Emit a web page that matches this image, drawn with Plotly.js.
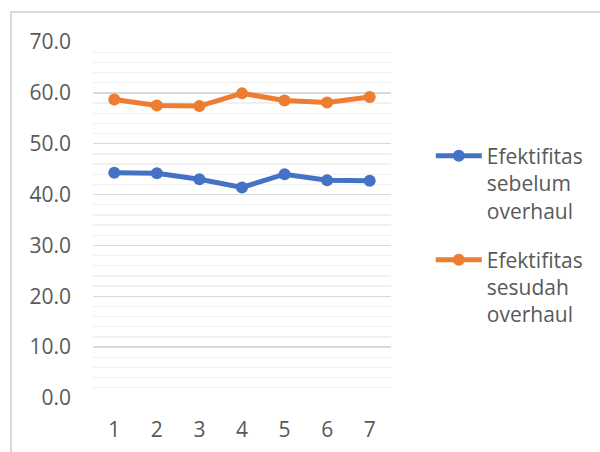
<!DOCTYPE html>
<html>
<head>
<meta charset="utf-8">
<script src="https://cdn.plot.ly/plotly-3.0.1.min.js"></script>
<style>
  html, body { margin: 0; padding: 0; background: #ffffff; }
  #wrap { position: relative; width: 600px; height: 452px; overflow: hidden; }
  #frame { position: absolute; left: 10px; top: 11px; width: 620px; height: 470px;
           border: 2px solid #d9d9d9; box-sizing: border-box; }
  #chart { position: absolute; left: 0; top: 0; width: 600px; height: 452px; }
</style>
</head>
<body>
<div id="wrap">
  <div id="frame"></div>
  <div id="chart"></div>
</div>
<script>
// Measurement points 1..7
const categories = [1, 2, 3, 4, 5, 6, 7];
// Efficiency before overhaul (%)
const sebelum = [44.3, 44.2, 43.0, 41.4, 44.0, 42.8, 42.7];
// Efficiency after overhaul (%)
const sesudah = [58.7, 57.5, 57.4, 59.9, 58.5, 58.1, 59.2];
const seriesNames = ['Efektifitas<br>sebelum<br>overhaul', 'Efektifitas<br>sesudah<br>overhaul'];
const yTickVals = [0, 10, 20, 30, 40, 50, 60, 70];
const yTickText = ['0.0', '10.0', '20.0', '30.0', '40.0', '50.0', '60.0', '70.0'];

const font = { family: 'Open Sans, sans-serif', size: 21, color: '#595959' };

const traces = [
  {
    x: categories, y: sebelum, name: seriesNames[0], legendgroup: 'a',
    type: 'scatter', mode: 'lines+markers',
    line: { color: '#4472C4', width: 5 },
    marker: { color: '#4472C4', size: 12 }
  },
  {
    x: categories, y: sesudah, name: seriesNames[1], legendgroup: 'b',
    type: 'scatter', mode: 'lines+markers',
    line: { color: '#ED7D31', width: 5 },
    marker: { color: '#ED7D31', size: 12 }
  }
];

const layout = {
  width: 600, height: 452,
  paper_bgcolor: 'rgba(0,0,0,0)', plot_bgcolor: 'rgba(0,0,0,0)',
  margin: { l: 93, r: 209, t: 42, b: 54 },
  font: font,
  showlegend: true,
  legend: {
    xref: 'container', yref: 'container',
    x: 0.718, xanchor: 'left', y: 0.70, yanchor: 'top',
    valign: 'top', font: font, bgcolor: 'rgba(0,0,0,0)',
    traceorder: 'grouped', tracegroupgap: 19, itemwidth: 46
  },
  xaxis: {
    range: [0.5, 7.5], tickvals: categories, showgrid: false, zeroline: false,
    showline: false, ticks: '', ticklabelstandoff: 17, tickfont: font, fixedrange: true
  },
  yaxis: {
    range: [0, 70], tickvals: yTickVals, ticktext: yTickText,
    showgrid: true, gridcolor: '#d9d9d9', gridwidth: 1.3, zeroline: false,
    showline: false, ticks: '', ticklabelstandoff: 21, tickfont: font,
    minor: { dtick: 2, showgrid: true, gridcolor: '#f0f0f0', gridwidth: 1.3 },
    fixedrange: true
  }
};

Plotly.newPlot('chart', traces, layout, { displayModeBar: false, staticPlot: true });
</script>
</body>
</html>
